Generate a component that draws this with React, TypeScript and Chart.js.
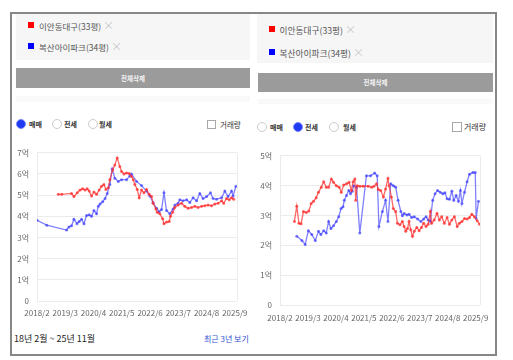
import React, { useEffect, useRef } from "react";
import { Chart, registerables } from "chart.js";

Chart.register(...registerables);

// ---------- data ----------
const xTickLabels = ["2018/2", "2019/3", "2020/4", "2021/5", "2022/6", "2023/7", "2024/8", "2025/9"];
const seriesNames = ["이안동대구(33평)", "복산아이파크(34평)"];
const dealTypes = ["매매", "전세", "월세"];

// months since 2018/2
const saleRedMonths = [9.8, 11.4, 15.9, 17.0, 18.5, 19.8, 21.0, 22.1, 23.1, 24.0, 25.1, 26.2, 27.4, 28.6, 29.7, 30.8, 31.7, 32.8, 33.5, 34.8, 35.8, 36.9, 38.1, 38.9, 40.0, 41.2, 42.4, 43.5, 44.3, 45.0, 46.1, 47.0, 48.1, 49.2, 50.4, 51.6, 52.7, 53.4, 54.7, 55.3, 56.5, 57.8, 58.4, 59.6, 60.8, 61.4, 62.4, 63.4, 64.9, 66.5, 68.0, 69.5, 71.1, 72.6, 74.1, 75.7, 77.2, 78.7, 80.3, 81.8, 83.3, 84.9, 85.9, 87.2, 88.4, 89.5, 90.5];
const saleRedValues = [5.04, 5.04, 5.08, 4.93, 5.11, 5.24, 5.3, 5.24, 5.3, 5.19, 4.96, 5.15, 5.04, 5.24, 5.42, 5.5, 5.27, 5.35, 5.73, 6.19, 6.42, 6.76, 6.35, 6.12, 6.0, 6.05, 6.02, 5.88, 5.73, 5.5, 5.27, 4.88, 5.24, 5.11, 5.27, 5.04, 4.93, 4.62, 4.35, 4.19, 4.12, 3.88, 3.65, 3.73, 3.76, 4.0, 4.19, 4.42, 4.53, 4.62, 4.47, 4.38, 4.42, 4.47, 4.42, 4.47, 4.5, 4.53, 4.5, 4.58, 4.62, 4.73, 4.62, 4.84, 4.78, 4.88, 4.81];

const saleBlueMonths = [0, 4.5, 13.6, 14.7, 15.9, 17.0, 18.4, 19.4, 20.5, 21.6, 22.8, 24.0, 25.1, 26.2, 27.4, 28.2, 29.0, 30.2, 31.3, 32.3, 33.5, 34.6, 35.8, 37.4, 38.9, 41.2, 42.7, 43.5, 45.8, 48.1, 50.4, 51.9, 53.4, 55.0, 56.2, 57.3, 58.4, 59.6, 61.1, 62.6, 63.4, 64.9, 65.7, 67.2, 68.8, 70.3, 71.8, 73.4, 74.9, 76.4, 78.0, 79.8, 81.0, 82.6, 84.9, 86.4, 87.9, 89.5, 90.2, 91.5];
const saleBlueValues = [3.81, 3.58, 3.35, 3.5, 3.55, 3.86, 3.65, 3.76, 3.86, 3.65, 4.04, 4.07, 4.0, 4.27, 4.12, 4.47, 4.58, 4.69, 4.84, 5.08, 5.5, 6.24, 5.8, 5.65, 5.73, 5.73, 5.91, 6.0, 5.65, 5.45, 5.19, 4.96, 4.65, 4.38, 4.22, 4.32, 5.11, 4.27, 4.12, 4.35, 4.53, 4.62, 4.78, 4.73, 4.78, 4.65, 4.88, 4.73, 5.08, 4.84, 4.93, 5.11, 4.84, 4.81, 4.88, 5.19, 4.93, 5.19, 4.96, 5.42];

const jeonseRedMonths = [6.7, 7.8, 8.8, 9.8, 10.9, 12.2, 13.4, 14.5, 15.6, 16.8, 17.9, 19.2, 20.3, 21.5, 22.6, 23.9, 24.9, 26.2, 27.5, 28.5, 29.6, 30.9, 32.1, 33.2, 34.0, 34.8, 35.2, 35.9, 37.1, 38.7, 41.0, 42.6, 43.7, 44.9, 45.7, 46.8, 48.1, 49.1, 50.2, 50.7, 51.8, 52.7, 53.8, 54.6, 55.8, 56.9, 57.7, 58.5, 59.3, 60.0, 60.8, 61.6, 62.4, 63.6, 64.7, 65.8, 66.8, 67.9, 68.9, 69.9, 70.5, 71.7, 73.0, 74.1, 75.2, 76.4, 77.7, 78.8, 79.9, 81.1, 82.4, 83.4, 84.6, 85.8, 87.0, 88.1, 89.2, 90.4, 91.7, 92.8];
const jeonseRedValues = [2.8, 3.31, 2.74, 2.72, 3.13, 3.1, 3.15, 3.4, 3.48, 3.59, 3.78, 3.95, 4.13, 3.95, 3.95, 4.22, 4.11, 4.0, 3.95, 3.78, 4.02, 4.06, 4.11, 3.84, 4.13, 4.22, 3.51, 4.0, 3.98, 3.98, 3.98, 3.95, 3.98, 4.06, 3.87, 3.84, 3.62, 3.89, 4.24, 4.0, 3.62, 3.23, 3.13, 2.74, 2.69, 2.8, 2.63, 2.47, 2.56, 2.8, 2.52, 2.3, 2.47, 2.6, 2.49, 2.6, 2.74, 2.63, 2.71, 3.13, 2.74, 2.85, 3.07, 2.85, 2.96, 2.74, 2.93, 2.71, 2.85, 2.96, 2.63, 2.74, 2.8, 2.9, 2.88, 2.93, 3.04, 2.96, 2.82, 2.71];

const jeonseBlueMonths = [7.8, 10.2, 11.7, 13.2, 14.8, 16.4, 17.9, 19.0, 20.3, 21.5, 22.6, 23.7, 24.9, 26.2, 27.3, 28.4, 29.3, 29.9, 30.9, 32.0, 32.8, 33.6, 34.3, 35.6, 37.1, 40.2, 42.1, 44.0, 45.2, 46.0, 47.6, 49.1, 50.2, 51.5, 52.7, 53.8, 54.9, 56.2, 56.9, 57.7, 59.0, 60.0, 61.2, 62.4, 64.0, 65.5, 66.8, 67.9, 68.9, 69.9, 71.0, 72.1, 73.3, 74.5, 75.7, 76.7, 77.7, 78.8, 79.9, 80.8, 81.9, 83.0, 83.9, 84.6, 85.8, 87.0, 88.1, 89.7, 90.8, 91.2, 92.3];
const jeonseBlueValues = [2.3, 2.16, 2.03, 2.49, 2.36, 2.16, 2.47, 2.36, 2.49, 2.41, 2.8, 2.56, 2.66, 2.8, 2.96, 3.23, 3.29, 3.51, 3.67, 3.84, 3.73, 3.81, 4.0, 3.95, 2.41, 4.33, 4.33, 4.42, 4.33, 2.63, 3.13, 3.51, 2.8, 4.06, 4.0, 3.95, 3.51, 3.13, 2.99, 3.07, 3.02, 3.04, 2.93, 2.96, 2.88, 2.8, 2.88, 2.96, 2.85, 2.8, 3.51, 3.73, 3.84, 3.78, 3.73, 3.76, 3.56, 3.54, 3.81, 3.51, 3.67, 3.48, 3.84, 3.4, 3.78, 4.13, 4.38, 4.44, 4.44, 2.9, 3.48];

// ---------- style ----------
const FONT = '"Noto Sans CJK KR", "Noto Sans", sans-serif';
const RED = "rgba(255,45,45,0.72)";
const BLUE = "rgba(50,50,255,0.62)";
const GRID = "#ebebeb";

const tickMonths = xTickLabels.map((l) => {
  const [y, m] = l.split("/").map(Number);
  return (y - 2018) * 12 + (m - 2);
});

const toPoints = (xs: number[], ys: number[]) => xs.map((x, i) => ({ x, y: ys[i] }));

type ChartProps = {
  left: number; top: number; width: number; height: number;
  yMax: number; xMax: number; yAxisWidth: number; padTop: number; padRight: number;
  xPad: number;
  red: { x: number; y: number }[]; blue: { x: number; y: number }[];
};

function PriceChart(p: ChartProps) {
  const ref = useRef<HTMLCanvasElement>(null);
  useEffect(() => {
    const ds = (data: any, color: string) => ({
      data,
      borderColor: color,
      backgroundColor: color,
      borderWidth: 1.3,
      pointRadius: 1.5,
      pointBorderWidth: 0,
      pointHoverRadius: 1.5,
      tension: 0,
      fill: false,
    });
    const chart = new Chart(ref.current as HTMLCanvasElement, {
      type: "line",
      data: { datasets: [ds(p.red, RED), ds(p.blue, BLUE)] },
      options: {
        responsive: false,
        animation: false,
        layout: { padding: { top: p.padTop, right: p.padRight, left: 0, bottom: 0 } },
        plugins: { legend: { display: false }, tooltip: { enabled: false } },
        scales: {
          x: {
            type: "linear",
            min: 0,
            max: p.xMax,
            afterBuildTicks: (s: any) => {
              s.ticks = [...tickMonths, p.xMax].map((v) => ({ value: v }));
            },
            afterFit: (s: any) => { s.height = 20; },
            ticks: {
              autoSkip: false,
              maxRotation: 0,
              padding: p.xPad,
              color: "#666",
              font: { family: FONT, size: 8 },
              callback: (v: any) => {
                const i = tickMonths.indexOf(Number(v));
                return i >= 0 ? xTickLabels[i] : "";
              },
            },
            grid: {
              drawTicks: false,
              color: (c: any) => (c.tick && (c.tick.value === 0 || c.tick.value === p.xMax) ? GRID : "rgba(0,0,0,0)"),
            },
            border: { display: false },
          },
          y: {
            min: 0,
            max: p.yMax,
            afterFit: (s: any) => { s.width = p.yAxisWidth; },
            ticks: {
              stepSize: 1,
              padding: 8,
              color: "#666",
              font: { family: FONT, size: 8 },
              callback: (v: any) => (Number(v) === 0 ? "0" : `${v}억`),
            },
            grid: { drawTicks: false, color: GRID },
            border: { display: false },
          },
        },
      },
    } as any);
    return () => chart.destroy();
  }, []);
  return (
    <canvas
      ref={ref}
      width={p.width}
      height={p.height}
      style={{ position: "absolute", left: p.left, top: p.top, width: p.width, height: p.height }}
    />
  );
}

const Txt = ({ x, cy, size, color = "#333", bold = false, children }: any) => (
  <div
    style={{
      position: "absolute", left: x, top: cy - size, height: size * 2, lineHeight: `${size * 2}px`,
      fontSize: size, color, fontWeight: bold ? 700 : 400, whiteSpace: "nowrap", fontFamily: FONT,
    }}
  >
    {children}
  </div>
);

const Box = ({ x, y, w, h, style }: any) => (
  <div style={{ position: "absolute", left: x, top: y, width: w, height: h, boxSizing: "border-box", ...style }} />
);

const Radio = ({ cx, cy, on }: any) => (
  <Box
    x={cx - 5} y={cy - 5} w={10} h={10}
    style={{
      borderRadius: "50%",
      border: on ? "1.5px solid #7d8cff" : "1px solid #cccccc",
      background: on ? "#1e3af2" : "#fff",
    }}
  />
);

const LegendItem = ({ x, cy, color, label, size }: any) => (
  <>
    <Box x={x} y={cy - 3} w={6} h={6} style={{ background: color }} />
    <div
      style={{
        position: "absolute", left: x + 11, top: cy - 8, height: 16, lineHeight: "16px",
        fontSize: size, color: "#555", whiteSpace: "nowrap", fontFamily: FONT,
      }}
    >
      {label}
      <span style={{ color: "#b8b8b8", fontSize: 11, marginLeft: 2, fontWeight: 300 }}>×</span>
    </div>
  </>
);

const Button = ({ x, y, w, h }: any) => (
  <div
    style={{
      position: "absolute", left: x, top: y, width: w, height: h, background: "#9b9b9b",
      color: "#f4f4f4", fontSize: 6.5, fontWeight: 700, textAlign: "center", lineHeight: `${h}px`, fontFamily: FONT,
    }}
  >
    전체삭제
  </div>
);

export default function App() {
  return (
    <div style={{ position: "absolute", left: 0, top: 0, width: 513, height: 360, background: "#fff", overflow: "hidden", fontFamily: FONT }}>
      {/* frame */}
      <Box x={10} y={12} w={487} h={344} style={{ border: "2px solid #878787" }} />

      {/* left panel */}
      <Box x={16} y={14} w={234} h={46} style={{ background: "#f6f6f6" }} />
      <LegendItem x={28} cy={24.5} color="#ff0000" label={seriesNames[0]} size={8.5} />
      <LegendItem x={28} cy={45.5} color="#0000ff" label={seriesNames[1]} size={8.5} />
      <Button x={16} y={68} w={234} h={20} />
      <Box x={16} y={96} w={234} h={6} style={{ background: "#f9f9f9" }} />

      <Radio cx={20.5} cy={124} on />
      <Txt x={29} cy={124} size={7} bold>{dealTypes[0]}</Txt>
      <Radio cx={56.5} cy={124} />
      <Txt x={64} cy={124} size={7} bold>{dealTypes[1]}</Txt>
      <Radio cx={92.5} cy={124} />
      <Txt x={99} cy={124} size={7} bold>{dealTypes[2]}</Txt>
      <Box x={207} y={119.5} w={9} h={9} style={{ border: "1px solid #a8a8a8", background: "#fff" }} />
      <Txt x={220} cy={124} size={7.5}>거래량</Txt>

      <PriceChart
        left={12} top={140} width={240} height={181}
        yMax={7} xMax={92} yAxisWidth={25} padTop={9} padRight={15} xPad={7}
        red={toPoints(saleRedMonths, saleRedValues)}
        blue={toPoints(saleBlueMonths, saleBlueValues)}
      />

      <Txt x={14} cy={339} size={9} color="#222">18년 2월 ~ 25년 11월</Txt>
      <Txt x={204} cy={339} size={8} color="#3252d4">최근 3년 보기</Txt>

      {/* right panel */}
      <Box x={257} y={14} w={236} h={49} style={{ background: "#f6f6f6" }} />
      <LegendItem x={268.5} cy={28.5} color="#ff0000" label={seriesNames[0]} size={8.7} />
      <LegendItem x={268.5} cy={51.8} color="#0000ff" label={seriesNames[1]} size={8.7} />
      <Button x={258} y={73} w={235} h={19} />
      <Box x={258} y={99} w={235} h={5} style={{ background: "#f9f9f9" }} />

      <Radio cx={262} cy={127} />
      <Txt x={270} cy={127} size={7} bold>{dealTypes[0]}</Txt>
      <Radio cx={298} cy={127} on />
      <Txt x={305} cy={127} size={7} bold>{dealTypes[1]}</Txt>
      <Radio cx={334} cy={127} />
      <Txt x={343} cy={127} size={7} bold>{dealTypes[2]}</Txt>
      <Box x={452} y={122} w={10} h={10} style={{ border: "1px solid #a8a8a8", background: "#fff" }} />
      <Txt x={464} cy={127} size={8}>거래량</Txt>

      <PriceChart
        left={256} top={143} width={239} height={182}
        yMax={5} xMax={93} yAxisWidth={24} padTop={10} padRight={15} xPad={8}
        red={toPoints(jeonseRedMonths, jeonseRedValues)}
        blue={toPoints(jeonseBlueMonths, jeonseBlueValues)}
      />
    </div>
  );
}
